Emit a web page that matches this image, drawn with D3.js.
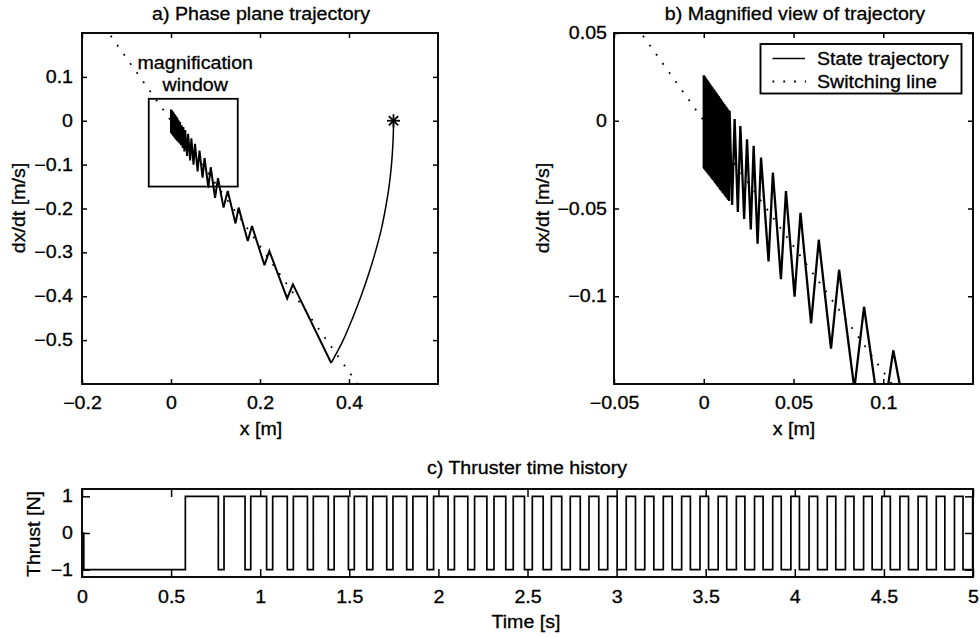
<!DOCTYPE html>
<html><head><meta charset="utf-8">
<script src="https://cdn.jsdelivr.net/npm/d3@7"></script>
<style>
body{margin:0;background:#fff;}
svg text{font-family:"Liberation Sans",Arial,Helvetica,sans-serif;font-size:17.5px;fill:#000;stroke:#000;stroke-width:0.3px;}
</style></head><body>
<svg id="c" width="980" height="638"></svg>
<script>
// ---------------- data ----------------
// curved first leg of the trajectory (thrust -1), from the start point
const arcX = [0.500, 0.4996, 0.498, 0.4955, 0.490, 0.482, 0.472, 0.459, 0.444, 0.427, 0.408, 0.387, 0.360];
const arcY = [0.000, -0.030, -0.065, -0.100, -0.150, -0.200, -0.250, -0.300, -0.350, -0.400, -0.450, -0.500, -0.552];
// chattering along the switching line (alternating peaks / troughs), right to left
const zigX = [0.360, 0.274, 0.261, 0.221, 0.210, 0.182, 0.1725, 0.152, 0.145, 0.1275, 0.118,
  0.1056, 0.099, 0.0893, 0.0839, 0.0754, 0.0709, 0.0641, 0.0598, 0.0539, 0.0506, 0.0458, 0.0430,
  0.0385, 0.0361, 0.0319, 0.0300, 0.0278, 0.0262, 0.0241, 0.0225, 0.0204, 0.0190, 0.0172, 0.0158,
  0.0144, 0.0141, 0.0138, 0.0135, 0.0132, 0.0129, 0.0126, 0.0123, 0.0120, 0.0117, 0.0114, 0.0111,
  0.0108, 0.0105, 0.0102, 0.0099, 0.0096, 0.0093, 0.0090, 0.0087, 0.0084, 0.0081, 0.0078, 0.0075,
  0.0072, 0.0069, 0.0066, 0.0063, 0.0060, 0.0057, 0.0054, 0.0051, 0.0048, 0.0045, 0.0042, 0.0039,
  0.0036, 0.0033, 0.0031, 0.0028, 0.0026, 0.0023, 0.0021, 0.0019, 0.0017, 0.0015, 0.0013, 0.0011,
  0.0009, 0.0007, 0.0006, 0.0004, 0.0003, 0.0002, 0.0001, 0.0000, 0.0000];
const zigY = [-0.552, -0.373, -0.405, -0.297, -0.329, -0.240, -0.274, -0.198, -0.234, -0.160, -0.198,
  -0.1308, -0.176, -0.106, -0.1527, -0.0849, -0.1298, -0.0678, -0.1155, -0.0525, -0.1002, -0.0401, -0.0903,
  -0.0296, -0.0802, -0.0210, -0.0700, -0.0143, -0.0620, -0.0105, -0.0560, -0.0030, -0.0520, 0.0010, -0.0480,
  0.0057, -0.0457, 0.0061, -0.0450, 0.0070, -0.0442, 0.0079, -0.0434, 0.0087, -0.0426, 0.0096, -0.0418,
  0.0104, -0.0410, 0.0113, -0.0402, 0.0122, -0.0394, 0.0130, -0.0386, 0.0139, -0.0378, 0.0148, -0.0370,
  0.0156, -0.0362, 0.0165, -0.0354, 0.0174, -0.0346, 0.0182, -0.0338, 0.0191, -0.0330, 0.0200, -0.0322,
  0.0208, -0.0314, 0.0215, -0.0307, 0.0223, -0.0301, 0.0230, -0.0295, 0.0235, -0.0290, 0.0241, -0.0285,
  0.0247, -0.0280, 0.0251, -0.0275, 0.0256, -0.0272, 0.0258, -0.0269, 0.0259];
const startX = [0.5], startY = [0.0];
// switching line end points
const switchX = [-0.15, 0.45];
const switchY = [0.2145, -0.6435];
// magnification window
const winX = [-0.05, 0.15], winY = [-0.15, 0.05];
// ticks
const xTicksA = [-0.2, 0, 0.2, 0.4];
const yTicksA = [0.1, 0, -0.1, -0.2, -0.3, -0.4, -0.5];
const xTicksB = [-0.05, 0, 0.05, 0.1];
const yTicksB = [0.05, 0, -0.05, -0.1];
const tTicks = [0, 0.5, 1, 1.5, 2, 2.5, 3, 3.5, 4, 4.5, 5];
const fTicks = [-1, 0, 1];
// thruster history
const thrustStart = [0, 0.01, 0.58];      // times of the initial states
const thrustStartVal = [0, -1, 1];
const dipStart = [0.765, 0.915, 1.036, 1.152, 1.265, 1.382, 1.495, 1.598, 1.710, 1.822, 1.937, 2.054,
  2.165, 2.272, 2.378, 2.483, 2.588, 2.692, 2.796, 2.900, 3.003, 3.106, 3.209, 3.312, 3.414, 3.516,
  3.618, 3.720, 3.822, 3.924, 4.026, 4.128, 4.230, 4.332, 4.434, 4.536, 4.638, 4.740, 4.842, 4.944];
const dipEnd = [0.797, 0.947, 1.070, 1.186, 1.298, 1.415, 1.528, 1.632, 1.745, 1.857, 1.973, 2.090,
  2.203, 2.312, 2.420, 2.527, 2.634, 2.740, 2.845, 2.950, 3.054, 3.158, 3.262, 3.365, 3.468, 3.570,
  3.672, 3.774, 3.876, 3.978, 4.080, 4.182, 4.284, 4.386, 4.488, 4.590, 4.692, 4.794, 4.896, 4.998];

// ---------------- drawing ----------------
const svg = d3.select('#c');
const FS = 17.5, STRETCH = 1.12;
function stretch(sel) {
  sel.each(function () {
    const l = this.getComputedTextLength();
    if (l > 0) { this.setAttribute('textLength', l * STRETCH); this.setAttribute('lengthAdjust', 'spacingAndGlyphs'); }
  });
  return sel;
}
function label(x, y, s, rot) {
  const t = svg.append('text').attr('text-anchor', 'middle').attr('dominant-baseline', 'central')
    .attr('x', x).attr('y', y).text(s);
  if (rot) t.attr('transform', `rotate(-90,${x},${y})`);
  stretch(t);
  return t;
}
const fmt = d => (d < 0 ? '\u2212' : '') + String(Math.abs(d));

function panel(o) {
  const x = d3.scaleLinear().domain(o.xd).range([o.l, o.r]);
  const y = d3.scaleLinear().domain(o.yd).range([o.b, o.t]);
  const id = 'clip' + o.name;
  svg.append('clipPath').attr('id', id).append('rect')
    .attr('x', o.l).attr('y', o.t).attr('width', o.r - o.l).attr('height', o.b - o.t);
  const plot = svg.append('g').attr('clip-path', `url(#${id})`);
  const style = g => {
    g.select('.domain').remove();
    g.selectAll('line').attr('stroke', '#000').attr('stroke-width', 1.5);
    g.selectAll('text').attr('font-size', FS).attr('font-family', '"Liberation Sans",Arial,sans-serif').attr('fill', '#000');
  };
  const L = o.tick;
  svg.append('g').attr('transform', `translate(0,${o.b})`)
    .call(d3.axisBottom(x).tickValues(o.xt).tickSize(-L).tickPadding(o.xpad).tickFormat(fmt)).call(style)
    .call(g => stretch(g.selectAll('text')));
  svg.append('g').attr('transform', `translate(0,${o.t})`)
    .call(d3.axisTop(x).tickValues(o.xt).tickSize(-L).tickFormat('')).call(style);
  svg.append('g').attr('transform', `translate(${o.l},0)`)
    .call(d3.axisLeft(y).tickValues(o.yt).tickSize(-L).tickPadding(o.ypad).tickFormat(fmt)).call(style)
    .call(g => stretch(g.selectAll('text')));
  svg.append('g').attr('transform', `translate(${o.r},0)`)
    .call(d3.axisRight(y).tickValues(o.yt).tickSize(-L).tickFormat('')).call(style);
  svg.append('rect').attr('x', o.l).attr('y', o.t).attr('width', o.r - o.l).attr('height', o.b - o.t)
    .attr('fill', 'none').attr('stroke', '#000').attr('stroke-width', 1.9);
  return { x, y, plot };
}

const A = panel({ name: 'A', l: 82, r: 438, t: 33, b: 384, xd: [-0.2, 0.6], yd: [-0.6, 0.2],
  xt: xTicksA, yt: yTicksA, tick: 5, xpad: 13, ypad: 9 });
const B = panel({ name: 'B', l: 614, r: 973, t: 33, b: 384, xd: [-0.05, 0.15], yd: [-0.15, 0.05],
  xt: xTicksB, yt: yTicksB, tick: 5, xpad: 13, ypad: 7 });
const C = panel({ name: 'C', l: 82, r: 973, t: 489, b: 577, xd: [0, 5], yd: [-1.2, 1.2],
  xt: tTicks, yt: fTicks, tick: 8, xpad: 14, ypad: 9 });

function drawPhase(P, strokeW) {
  const line = d3.line().x(d => P.x(d[0])).y(d => P.y(d[1]));
  // switching line
  P.plot.append('path').datum(switchX.map((v, i) => [v, switchY[i]]))
    .attr('d', line).attr('fill', 'none').attr('stroke', '#000').attr('stroke-width', 1.8)
    .attr('stroke-dasharray', '1.8 9.4');
  // arc
  P.plot.append('path').datum(arcX.map((v, i) => [v, arcY[i]]))
    .attr('d', d3.line().x(d => P.x(d[0])).y(d => P.y(d[1])).curve(d3.curveCatmullRom))
    .attr('fill', 'none').attr('stroke', '#000').attr('stroke-width', 1.5);
  // zigzag
  P.plot.append('path').datum(zigX.map((v, i) => [v, zigY[i]]))
    .attr('d', line).attr('fill', 'none').attr('stroke', '#000').attr('stroke-width', strokeW)
    .attr('stroke-linejoin', 'miter').attr('stroke-miterlimit', 3);
}
drawPhase(A, 2.0);
drawPhase(B, 2.3);

// start marker (asterisk)
startX.forEach((sx, i) => {
  const cx = A.x(sx), cy = A.y(startY[i]), r = 6.5, q = r * 0.72;
  const g = svg.append('g').attr('stroke', '#000').attr('stroke-width', 1.8);
  [[-r, 0, r, 0], [0, -r, 0, r], [-q, -q, q, q], [-q, q, q, -q]].forEach(s =>
    g.append('line').attr('x1', cx + s[0]).attr('y1', cy + s[1]).attr('x2', cx + s[2]).attr('y2', cy + s[3]));
});
// magnification window
svg.append('rect').attr('x', A.x(winX[0])).attr('y', A.y(winY[1]))
  .attr('width', A.x(winX[1]) - A.x(winX[0])).attr('height', A.y(winY[0]) - A.y(winY[1]))
  .attr('fill', 'none').attr('stroke', '#000').attr('stroke-width', 1.8);
label(A.x(0.05) + 2, 63, 'magnification');
label(A.x(0.05) + 2, 85, 'window');

// thrust history
const thrustPts = thrustStart.map((t, i) => [t, thrustStartVal[i]]);
dipStart.forEach((t, i) => { thrustPts.push([t, -1]); thrustPts.push([Math.min(dipEnd[i], 5), 1]); });
thrustPts.push([5, 1]);
C.plot.append('path').datum(thrustPts)
  .attr('d', d3.line().x(d => C.x(d[0])).y(d => C.y(d[1])).curve(d3.curveStepAfter))
  .attr('fill', 'none').attr('stroke', '#000').attr('stroke-width', 1.7);

// legend (panel b)
const lg = svg.append('g');
lg.append('rect').attr('x', 760.5).attr('y', 44).attr('width', 201).attr('height', 49.5)
  .attr('fill', '#fff').attr('stroke', '#000').attr('stroke-width', 1.9);
lg.append('line').attr('x1', 772.5).attr('x2', 805).attr('y1', 58.5).attr('y2', 58.5)
  .attr('stroke', '#000').attr('stroke-width', 1.7);
lg.append('line').attr('x1', 772.5).attr('x2', 806).attr('y1', 81.5).attr('y2', 81.5)
  .attr('stroke', '#000').attr('stroke-width', 1.8).attr('stroke-dasharray', '1.8 9');
stretch(lg.append('text').attr('x', 817).attr('y', 58.5).attr('dominant-baseline', 'central').text('State trajectory'));
stretch(lg.append('text').attr('x', 817).attr('y', 81.5).attr('dominant-baseline', 'central').text('Switching line'));

// titles and axis labels
label(261, 13.5, 'a)  Phase plane trajectory');
label(795, 13.5, 'b)  Magnified view of trajectory');
label(527, 468, 'c)  Thruster time history');
label(261, 429, 'x [m]');
label(794, 429, 'x [m]');
label(526, 622, 'Time [s]');
label(19, 208, 'dx/dt [m/s]', true);
label(543, 208, 'dx/dt [m/s]', true);
label(34, 534, 'Thrust [N]', true);
</script></body></html>
